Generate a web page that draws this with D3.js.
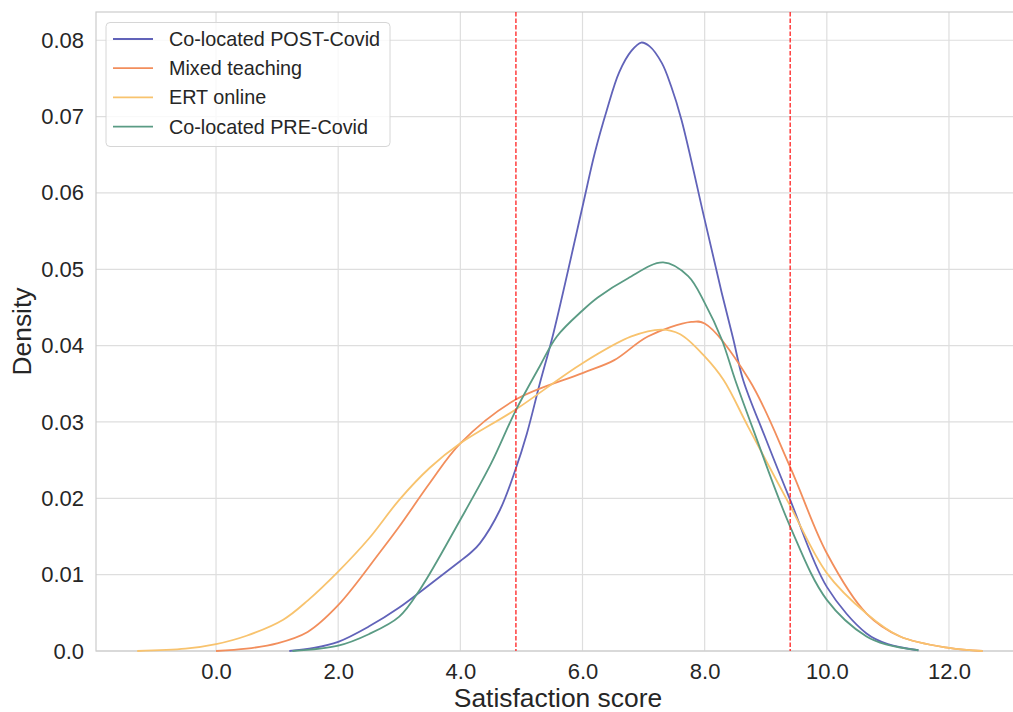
<!DOCTYPE html>
<html>
<head>
<meta charset="utf-8">
<script src="https://cdn.jsdelivr.net/npm/d3@7"></script>
<style>
  body { margin: 0; background: #fff; }
  text { font-family: "Liberation Sans", Arial, sans-serif; fill: #262626; }
</style>
</head>
<body>
<div id="chart"></div>
<script>
// density curves, [score, density]
const postCovid = [[1.2,0],[1.6,0.0004],[2,0.0012],[2.5,0.0032],[3,0.0057],[3.4,0.0081],[4,0.0118],[4.16,0.0128],
  [4.32,0.0141],[4.65,0.0185],[4.9,0.0237],[5.09,0.0285],[5.3,0.035],[5.52,0.0415],[6,0.0582],[6.2,0.0652],
  [6.4,0.0709],[6.6,0.0758],[6.8,0.0786],[6.96,0.0797],[7.1,0.0792],[7.3,0.077],[7.45,0.074],[7.62,0.0696],
  [8,0.0565],[8.28,0.0469],[8.47,0.0408],[8.63,0.0355],[9,0.0278],[9.4,0.0198],[10,0.0084],[10.65,0.0023],
  [11,0.0009],[11.5,0.0001]];
const mixed = [[0,0],[0.5,0.0003],[1,0.001],[1.5,0.0025],[2,0.006],[2.69,0.013],[3,0.0163],[3.5,0.022],[4,0.0272],
  [4.9,0.0329],[6,0.0364],[6.52,0.0381],[7.07,0.0412],[7.78,0.0431],[8,0.0429],[8.73,0.0355],[9.4,0.0241],
  [10,0.0128],[10.65,0.0049],[11.2,0.0019],[12,0.0004],[12.55,0]];
const ertOnline = [[-1.29,0],[-0.5,0.0003],[0,0.0009],[0.5,0.002],[1.1,0.0041],[1.5,0.0066],[2,0.0104],[2.5,0.0147],
  [3,0.0198],[3.5,0.024],[4,0.0272],[4.9,0.0316],[6,0.0377],[6.8,0.0412],[7.29,0.0421],[7.6,0.0415],[8,0.0386],
  [8.31,0.0355],[8.71,0.0294],[9.4,0.019],[10,0.0102],[10.65,0.0049],[11.2,0.0019],[12,0.0004],[12.55,0]];
const preCovid = [[1.25,0],[2,0.0007],[2.5,0.0022],[3,0.0045],[3.35,0.0082],[4,0.0172],[4.5,0.0245],[4.9,0.0314],
  [5.3,0.0373],[5.58,0.0412],[6,0.0446],[6.25,0.0463],[6.74,0.0488],[7.32,0.0509],[7.73,0.0491],[8,0.0456],
  [8.28,0.0408],[8.5,0.0355],[8.8,0.0289],[9.4,0.0163],[10,0.0067],[10.65,0.0019],[11,0.0008],[11.5,0.0001]];

const seriesNames = ['Co-located POST-Covid', 'Mixed teaching', 'ERT online', 'Co-located PRE-Covid'];
const seriesColors = ['#6163b9', '#f28e5c', '#f8c36e', '#5a9b84'];
const refLines = [4.91, 9.40];
const xTicks = [0, 2, 4, 6, 8, 10, 12];
const yTicks = [0, 0.01, 0.02, 0.03, 0.04, 0.05, 0.06, 0.07, 0.08];

const W = 1013, H = 712;
const mLeft = 96, mTop = 12, mBottom = 651;

const svg = d3.select('#chart').append('svg').attr('width', W).attr('height', H);

const x = d3.scaleLinear().domain([-1.965, 13.24]).range([mLeft, mLeft + 15.205 * 61.08]);
const y = d3.scaleLinear().domain([0, 0.0837]).range([mBottom, mTop]);
const mRight = x.range()[1];

// grid
const g = svg.append('g');
g.selectAll('.gx').data(xTicks).enter().append('line')
  .attr('x1', d => x(d)).attr('x2', d => x(d)).attr('y1', mTop).attr('y2', mBottom)
  .style('stroke', '#dedede').style('stroke-width', 1.2);
g.selectAll('.gy').data(yTicks).enter().append('line')
  .attr('x1', mLeft).attr('x2', mRight).attr('y1', d => y(d)).attr('y2', d => y(d))
  .style('stroke', '#dedede').style('stroke-width', 1.2);

// spines
g.append('rect').attr('x', mLeft).attr('y', mTop).attr('width', mRight - mLeft).attr('height', mBottom - mTop)
  .style('fill', 'none').style('stroke', '#cccccc').style('stroke-width', 1.2);

// axes
const xAxis = svg.append('g').attr('transform', `translate(0,${mBottom})`)
  .call(d3.axisBottom(x).tickValues(xTicks).tickFormat(d3.format('.1f')).tickSize(0).tickPadding(12.5));
const yAxis = svg.append('g').attr('transform', `translate(${mLeft},0)`)
  .call(d3.axisLeft(y).tickValues(yTicks).tickFormat(d => d === 0 ? '0.0' : d3.format('.2f')(d)).tickSize(0).tickPadding(12));
[xAxis, yAxis].forEach(a => {
  a.select('.domain').remove();
  a.selectAll('text').style('font-size', '22px').style('fill', '#262626')
    .style('font-family', '"Liberation Sans", Arial, sans-serif');
});

svg.append('text').attr('x', 558).attr('y', 707).attr('text-anchor', 'middle')
  .style('font-size', '26.4px').text('Satisfaction score');
svg.append('text').attr('transform', `translate(31,${(mTop + mBottom) / 2}) rotate(-90)`).attr('text-anchor', 'middle')
  .style('font-size', '26.4px').text('Density');

// curves
const line = d3.line().x(d => x(d[0])).y(d => y(d[1])).curve(d3.curveCatmullRom.alpha(0.5));
[postCovid, mixed, ertOnline, preCovid].forEach((s, i) => {
  svg.append('path').datum(s).attr('d', line)
    .style('fill', 'none').style('stroke', seriesColors[i]).style('stroke-width', 1.8);
});

// reference lines
svg.selectAll('.ref').data(refLines).enter().append('line')
  .attr('x1', d => x(d)).attr('x2', d => x(d)).attr('y1', mTop).attr('y2', mBottom)
  .style('stroke', '#ff2020').style('stroke-width', 1.3).style('stroke-dasharray', '4.5,2');

// legend
const lg = svg.append('g');
lg.append('rect').attr('x', 106).attr('y', 22.5).attr('width', 284).attr('height', 124).attr('rx', 4)
  .style('fill', 'rgba(255,255,255,0.8)').style('stroke', '#d6d6d6').style('stroke-width', 1);
seriesNames.forEach((n, i) => {
  const yy = 39 + i * 29.2;
  lg.append('line').attr('x1', 113).attr('x2', 153).attr('y1', yy).attr('y2', yy)
    .style('stroke', seriesColors[i]).style('stroke-width', 1.8);
  lg.append('text').attr('x', 169).attr('y', yy + 7).style('font-size', '19.8px').text(n);
});
</script>
</body>
</html>
